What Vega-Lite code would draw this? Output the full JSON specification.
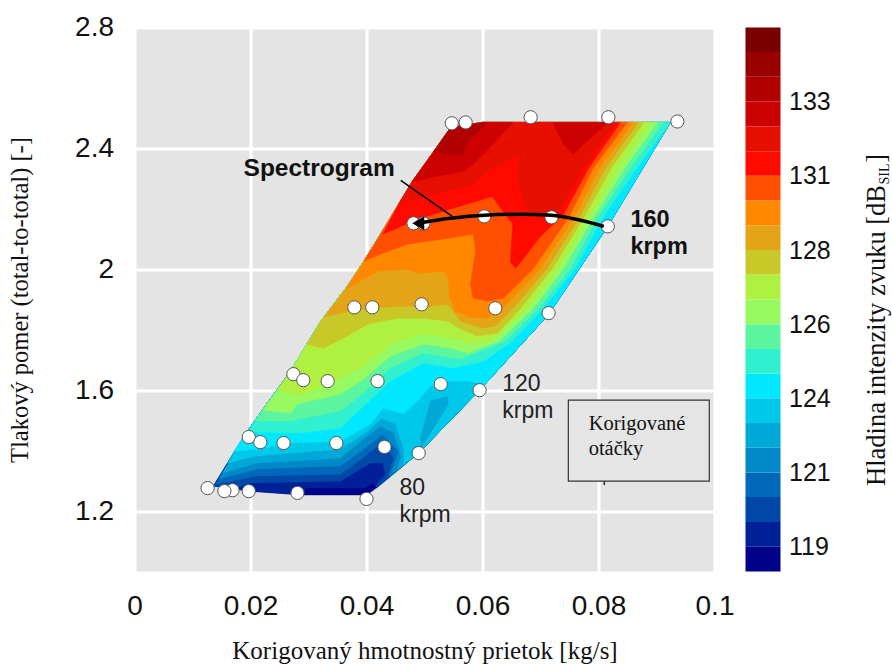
{"$schema":"https://vega.github.io/schema/vega-lite/v6.json","background":"white","padding":{"left":7.5,"top":13.5,"right":0,"bottom":0},"bounds":"flush","spacing":31,"config":{"view":{"stroke":null}},
"datasets":{"poly":[
{"b":22,"p":22,"x":0.06,"y":2.486},{"b":22,"p":22,"x":0.0545,"y":2.469},{"b":22,"p":22,"x":0.0516,"y":2.39},{"b":22,"p":22,"x":0.0479,"y":2.291},{"b":22,"p":22,"x":0.0455,"y":2.215},{"b":22,"p":22,"x":0.0424,"y":2.116},{"b":22,"p":22,"x":0.0395,"y":2.026},{"b":22,"p":22,"x":0.0367,"y":1.944},{"b":22,"p":22,"x":0.0321,"y":1.828},{"b":22,"p":22,"x":0.0269,"y":1.663},{"b":22,"p":22,"x":0.0191,"y":1.455},{"b":22,"p":22,"x":0.0136,"y":1.283},{"b":22,"p":22,"x":0.0197,"y":1.266},{"b":22,"p":22,"x":0.0291,"y":1.253},{"b":22,"p":22,"x":0.04,"y":1.253},{"b":22,"p":22,"x":0.0412,"y":1.269},{"b":22,"p":22,"x":0.049,"y":1.392},{"b":22,"p":22,"x":0.0595,"y":1.6},{"b":22,"p":22,"x":0.0714,"y":1.851},{"b":22,"p":22,"x":0.0816,"y":2.142},{"b":22,"p":22,"x":0.0924,"y":2.486},
{"b":21,"p":21,"x":0.0136,"y":1.283},{"b":21,"p":21,"x":0.0197,"y":1.266},{"b":21,"p":21,"x":0.0291,"y":1.253},{"b":21,"p":21,"x":0.0295,"y":1.276},{"b":21,"p":21,"x":0.035,"y":1.276},{"b":21,"p":21,"x":0.0395,"y":1.276},{"b":21,"p":21,"x":0.0412,"y":1.293},{"b":21,"p":21,"x":0.0417,"y":1.276},{"b":21,"p":21,"x":0.049,"y":1.392},{"b":21,"p":21,"x":0.0595,"y":1.6},{"b":21,"p":21,"x":0.0714,"y":1.851},{"b":21,"p":21,"x":0.0816,"y":2.142},{"b":21,"p":21,"x":0.0924,"y":2.486},{"b":21,"p":21,"x":0.06,"y":2.486},{"b":21,"p":21,"x":0.0545,"y":2.469},{"b":21,"p":21,"x":0.0516,"y":2.39},{"b":21,"p":21,"x":0.0479,"y":2.291},{"b":21,"p":21,"x":0.0455,"y":2.215},{"b":21,"p":21,"x":0.0424,"y":2.116},{"b":21,"p":21,"x":0.0395,"y":2.026},{"b":21,"p":21,"x":0.0367,"y":1.944},{"b":21,"p":21,"x":0.0321,"y":1.828},{"b":21,"p":21,"x":0.0269,"y":1.663},{"b":21,"p":21,"x":0.0191,"y":1.455},
{"b":20,"p":20,"x":0.0171,"y":1.273},{"b":20,"p":20,"x":0.02,"y":1.293},{"b":20,"p":20,"x":0.0355,"y":1.299},{"b":20,"p":20,"x":0.0407,"y":1.359},{"b":20,"p":20,"x":0.0428,"y":1.359},{"b":20,"p":20,"x":0.0433,"y":1.322},{"b":20,"p":20,"x":0.0416,"y":1.283},{"b":20,"p":20,"x":0.0419,"y":1.279},{"b":20,"p":20,"x":0.049,"y":1.392},{"b":20,"p":20,"x":0.0595,"y":1.6},{"b":20,"p":20,"x":0.0714,"y":1.851},{"b":20,"p":20,"x":0.0816,"y":2.142},{"b":20,"p":20,"x":0.0924,"y":2.486},{"b":20,"p":20,"x":0.06,"y":2.486},{"b":20,"p":20,"x":0.0545,"y":2.469},{"b":20,"p":20,"x":0.0516,"y":2.39},{"b":20,"p":20,"x":0.0479,"y":2.291},{"b":20,"p":20,"x":0.0455,"y":2.215},{"b":20,"p":20,"x":0.0424,"y":2.116},{"b":20,"p":20,"x":0.0395,"y":2.026},{"b":20,"p":20,"x":0.0367,"y":1.944},{"b":20,"p":20,"x":0.0321,"y":1.828},{"b":20,"p":20,"x":0.0269,"y":1.663},{"b":20,"p":20,"x":0.0191,"y":1.455},{"b":20,"p":20,"x":0.0136,"y":1.283},
{"b":19,"p":19,"x":0.014,"y":1.289},{"b":19,"p":19,"x":0.0212,"y":1.316},{"b":19,"p":19,"x":0.0355,"y":1.322},{"b":19,"p":19,"x":0.0398,"y":1.382},{"b":19,"p":19,"x":0.0429,"y":1.431},{"b":19,"p":19,"x":0.0447,"y":1.375},{"b":19,"p":19,"x":0.0436,"y":1.309},{"b":19,"p":19,"x":0.049,"y":1.392},{"b":19,"p":19,"x":0.0595,"y":1.6},{"b":19,"p":19,"x":0.0714,"y":1.851},{"b":19,"p":19,"x":0.0816,"y":2.142},{"b":19,"p":19,"x":0.0924,"y":2.486},{"b":19,"p":19,"x":0.06,"y":2.486},{"b":19,"p":19,"x":0.0545,"y":2.469},{"b":19,"p":19,"x":0.0516,"y":2.39},{"b":19,"p":19,"x":0.0479,"y":2.291},{"b":19,"p":19,"x":0.0455,"y":2.215},{"b":19,"p":19,"x":0.0424,"y":2.116},{"b":19,"p":19,"x":0.0395,"y":2.026},{"b":19,"p":19,"x":0.0367,"y":1.944},{"b":19,"p":19,"x":0.0321,"y":1.828},{"b":19,"p":19,"x":0.0269,"y":1.663},{"b":19,"p":19,"x":0.0191,"y":1.455},
{"b":18,"p":18,"x":0.0145,"y":1.306},{"b":18,"p":18,"x":0.0212,"y":1.339},{"b":18,"p":18,"x":0.0355,"y":1.349},{"b":18,"p":18,"x":0.0398,"y":1.408},{"b":18,"p":18,"x":0.0428,"y":1.455},{"b":18,"p":18,"x":0.0455,"y":1.398},{"b":18,"p":18,"x":0.0441,"y":1.316},{"b":18,"p":18,"x":0.049,"y":1.392},{"b":18,"p":18,"x":0.0595,"y":1.6},{"b":18,"p":18,"x":0.0714,"y":1.851},{"b":18,"p":18,"x":0.0816,"y":2.142},{"b":18,"p":18,"x":0.0924,"y":2.486},{"b":18,"p":18,"x":0.06,"y":2.486},{"b":18,"p":18,"x":0.0545,"y":2.469},{"b":18,"p":18,"x":0.0516,"y":2.39},{"b":18,"p":18,"x":0.0479,"y":2.291},{"b":18,"p":18,"x":0.0455,"y":2.215},{"b":18,"p":18,"x":0.0424,"y":2.116},{"b":18,"p":18,"x":0.0395,"y":2.026},{"b":18,"p":18,"x":0.0367,"y":1.944},{"b":18,"p":18,"x":0.0321,"y":1.828},{"b":18,"p":18,"x":0.0269,"y":1.663},{"b":18,"p":18,"x":0.0191,"y":1.455},
{"b":17,"p":17,"x":0.0152,"y":1.326},{"b":17,"p":17,"x":0.0212,"y":1.359},{"b":17,"p":17,"x":0.0355,"y":1.375},{"b":17,"p":17,"x":0.039,"y":1.431},{"b":17,"p":17,"x":0.0424,"y":1.481},{"b":17,"p":17,"x":0.0447,"y":1.458},{"b":17,"p":17,"x":0.046,"y":1.382},{"b":17,"p":17,"x":0.0453,"y":1.336},{"b":17,"p":17,"x":0.049,"y":1.392},{"b":17,"p":17,"x":0.0595,"y":1.6},{"b":17,"p":17,"x":0.0714,"y":1.851},{"b":17,"p":17,"x":0.0816,"y":2.142},{"b":17,"p":17,"x":0.0924,"y":2.486},{"b":17,"p":17,"x":0.06,"y":2.486},{"b":17,"p":17,"x":0.0545,"y":2.469},{"b":17,"p":17,"x":0.0516,"y":2.39},{"b":17,"p":17,"x":0.0479,"y":2.291},{"b":17,"p":17,"x":0.0455,"y":2.215},{"b":17,"p":17,"x":0.0424,"y":2.116},{"b":17,"p":17,"x":0.0395,"y":2.026},{"b":17,"p":17,"x":0.0367,"y":1.944},{"b":17,"p":17,"x":0.0321,"y":1.828},{"b":17,"p":17,"x":0.0269,"y":1.663},{"b":17,"p":17,"x":0.0191,"y":1.455},
{"b":16,"p":16,"x":0.016,"y":1.359},{"b":16,"p":16,"x":0.0212,"y":1.382},{"b":16,"p":16,"x":0.0269,"y":1.392},{"b":16,"p":16,"x":0.0355,"y":1.405},{"b":16,"p":16,"x":0.0402,"y":1.464},{"b":16,"p":16,"x":0.0426,"y":1.507},{"b":16,"p":16,"x":0.045,"y":1.488},{"b":16,"p":16,"x":0.0464,"y":1.408},{"b":16,"p":16,"x":0.0464,"y":1.352},{"b":16,"p":16,"x":0.049,"y":1.392},{"b":16,"p":16,"x":0.0595,"y":1.6},{"b":16,"p":16,"x":0.0714,"y":1.851},{"b":16,"p":16,"x":0.0816,"y":2.142},{"b":16,"p":16,"x":0.0924,"y":2.486},{"b":16,"p":16,"x":0.06,"y":2.486},{"b":16,"p":16,"x":0.0545,"y":2.469},{"b":16,"p":16,"x":0.0516,"y":2.39},{"b":16,"p":16,"x":0.0479,"y":2.291},{"b":16,"p":16,"x":0.0455,"y":2.215},{"b":16,"p":16,"x":0.0424,"y":2.116},{"b":16,"p":16,"x":0.0395,"y":2.026},{"b":16,"p":16,"x":0.0367,"y":1.944},{"b":16,"p":16,"x":0.0321,"y":1.828},{"b":16,"p":16,"x":0.0269,"y":1.663},{"b":16,"p":16,"x":0.0191,"y":1.455},
{"b":17,"p":165,"x":0.0493,"y":1.402},{"b":17,"p":165,"x":0.0493,"y":1.441},{"b":17,"p":165,"x":0.051,"y":1.564},{"b":17,"p":165,"x":0.054,"y":1.58},{"b":17,"p":165,"x":0.0541,"y":1.554},{"b":17,"p":165,"x":0.0516,"y":1.474},
{"b":15,"p":15,"x":0.0171,"y":1.398},{"b":15,"p":15,"x":0.0212,"y":1.405},{"b":15,"p":15,"x":0.0269,"y":1.425},{"b":15,"p":15,"x":0.0355,"y":1.431},{"b":15,"p":15,"x":0.0407,"y":1.488},{"b":15,"p":15,"x":0.0429,"y":1.541},{"b":15,"p":15,"x":0.0464,"y":1.521},{"b":15,"p":15,"x":0.0488,"y":1.564},{"b":15,"p":15,"x":0.051,"y":1.613},{"b":15,"p":15,"x":0.0545,"y":1.63},{"b":15,"p":15,"x":0.0579,"y":1.63},{"b":15,"p":15,"x":0.0603,"y":1.617},{"b":15,"p":15,"x":0.0714,"y":1.851},{"b":15,"p":15,"x":0.0816,"y":2.142},{"b":15,"p":15,"x":0.0924,"y":2.486},{"b":15,"p":15,"x":0.06,"y":2.486},{"b":15,"p":15,"x":0.0545,"y":2.469},{"b":15,"p":15,"x":0.0516,"y":2.39},{"b":15,"p":15,"x":0.0479,"y":2.291},{"b":15,"p":15,"x":0.0455,"y":2.215},{"b":15,"p":15,"x":0.0424,"y":2.116},{"b":15,"p":15,"x":0.0395,"y":2.026},{"b":15,"p":15,"x":0.0367,"y":1.944},{"b":15,"p":15,"x":0.0321,"y":1.828},{"b":15,"p":15,"x":0.0269,"y":1.663},{"b":15,"p":15,"x":0.0191,"y":1.455},
{"b":14,"p":14,"x":0.0195,"y":1.464},{"b":14,"p":14,"x":0.0212,"y":1.461},{"b":14,"p":14,"x":0.0286,"y":1.458},{"b":14,"p":14,"x":0.0355,"y":1.474},{"b":14,"p":14,"x":0.0395,"y":1.547},{"b":14,"p":14,"x":0.0441,"y":1.63},{"b":14,"p":14,"x":0.0498,"y":1.689},{"b":14,"p":14,"x":0.055,"y":1.673},{"b":14,"p":14,"x":0.0602,"y":1.696},{"b":14,"p":14,"x":0.0652,"y":1.762},{"b":14,"p":14,"x":0.0705,"y":1.871},{"b":14,"p":14,"x":0.076,"y":2.003},{"b":14,"p":14,"x":0.0807,"y":2.169},{"b":14,"p":14,"x":0.0866,"y":2.334},{"b":14,"p":14,"x":0.0924,"y":2.486},{"b":14,"p":14,"x":0.06,"y":2.486},{"b":14,"p":14,"x":0.0545,"y":2.469},{"b":14,"p":14,"x":0.0516,"y":2.39},{"b":14,"p":14,"x":0.0479,"y":2.291},{"b":14,"p":14,"x":0.0455,"y":2.215},{"b":14,"p":14,"x":0.0424,"y":2.116},{"b":14,"p":14,"x":0.0395,"y":2.026},{"b":14,"p":14,"x":0.0367,"y":1.944},{"b":14,"p":14,"x":0.0321,"y":1.828},{"b":14,"p":14,"x":0.0269,"y":1.663},
{"b":13,"p":13,"x":0.0207,"y":1.498},{"b":13,"p":13,"x":0.0269,"y":1.498},{"b":13,"p":13,"x":0.0355,"y":1.531},{"b":13,"p":13,"x":0.0395,"y":1.59},{"b":13,"p":13,"x":0.0441,"y":1.673},{"b":13,"p":13,"x":0.0498,"y":1.722},{"b":13,"p":13,"x":0.0562,"y":1.702},{"b":13,"p":13,"x":0.064,"y":1.762},{"b":13,"p":13,"x":0.0697,"y":1.871},{"b":13,"p":13,"x":0.0752,"y":2.003},{"b":13,"p":13,"x":0.0798,"y":2.169},{"b":13,"p":13,"x":0.0855,"y":2.334},{"b":13,"p":13,"x":0.0912,"y":2.486},{"b":13,"p":13,"x":0.06,"y":2.486},{"b":13,"p":13,"x":0.0545,"y":2.469},{"b":13,"p":13,"x":0.0516,"y":2.39},{"b":13,"p":13,"x":0.0479,"y":2.291},{"b":13,"p":13,"x":0.0455,"y":2.215},{"b":13,"p":13,"x":0.0424,"y":2.116},{"b":13,"p":13,"x":0.0395,"y":2.026},{"b":13,"p":13,"x":0.0367,"y":1.944},{"b":13,"p":13,"x":0.0321,"y":1.828},{"b":13,"p":13,"x":0.0269,"y":1.663},
{"b":12,"p":12,"x":0.0221,"y":1.534},{"b":12,"p":12,"x":0.0269,"y":1.524},{"b":12,"p":12,"x":0.0281,"y":1.554},{"b":12,"p":12,"x":0.0355,"y":1.587},{"b":12,"p":12,"x":0.0395,"y":1.636},{"b":12,"p":12,"x":0.0441,"y":1.712},{"b":12,"p":12,"x":0.0498,"y":1.752},{"b":12,"p":12,"x":0.0545,"y":1.739},{"b":12,"p":12,"x":0.0574,"y":1.722},{"b":12,"p":12,"x":0.0628,"y":1.762},{"b":12,"p":12,"x":0.0688,"y":1.871},{"b":12,"p":12,"x":0.074,"y":2.003},{"b":12,"p":12,"x":0.0791,"y":2.169},{"b":12,"p":12,"x":0.0845,"y":2.334},{"b":12,"p":12,"x":0.0902,"y":2.486},{"b":12,"p":12,"x":0.06,"y":2.486},{"b":12,"p":12,"x":0.0545,"y":2.469},{"b":12,"p":12,"x":0.0516,"y":2.39},{"b":12,"p":12,"x":0.0479,"y":2.291},{"b":12,"p":12,"x":0.0455,"y":2.215},{"b":12,"p":12,"x":0.0424,"y":2.116},{"b":12,"p":12,"x":0.0395,"y":2.026},{"b":12,"p":12,"x":0.0367,"y":1.944},{"b":12,"p":12,"x":0.0321,"y":1.828},{"b":12,"p":12,"x":0.0269,"y":1.663},
{"b":11,"p":11,"x":0.0247,"y":1.603},{"b":11,"p":11,"x":0.0286,"y":1.58},{"b":11,"p":11,"x":0.0355,"y":1.64},{"b":11,"p":11,"x":0.0395,"y":1.679},{"b":11,"p":11,"x":0.0441,"y":1.752},{"b":11,"p":11,"x":0.0498,"y":1.785},{"b":11,"p":11,"x":0.0545,"y":1.772},{"b":11,"p":11,"x":0.0584,"y":1.752},{"b":11,"p":11,"x":0.0614,"y":1.762},{"b":11,"p":11,"x":0.0678,"y":1.871},{"b":11,"p":11,"x":0.0731,"y":2.003},{"b":11,"p":11,"x":0.0783,"y":2.169},{"b":11,"p":11,"x":0.0833,"y":2.334},{"b":11,"p":11,"x":0.089,"y":2.486},{"b":11,"p":11,"x":0.06,"y":2.486},{"b":11,"p":11,"x":0.0545,"y":2.469},{"b":11,"p":11,"x":0.0516,"y":2.39},{"b":11,"p":11,"x":0.0479,"y":2.291},{"b":11,"p":11,"x":0.0455,"y":2.215},{"b":11,"p":11,"x":0.0424,"y":2.116},{"b":11,"p":11,"x":0.0395,"y":2.026},{"b":11,"p":11,"x":0.0367,"y":1.944},{"b":11,"p":11,"x":0.0321,"y":1.828},{"b":11,"p":11,"x":0.0269,"y":1.663},
{"b":10,"p":10,"x":0.0297,"y":1.752},{"b":10,"p":10,"x":0.0326,"y":1.739},{"b":10,"p":10,"x":0.0367,"y":1.779},{"b":10,"p":10,"x":0.0402,"y":1.818},{"b":10,"p":10,"x":0.0453,"y":1.838},{"b":10,"p":10,"x":0.0498,"y":1.838},{"b":10,"p":10,"x":0.054,"y":1.828},{"b":10,"p":10,"x":0.0562,"y":1.802},{"b":10,"p":10,"x":0.0591,"y":1.779},{"b":10,"p":10,"x":0.0626,"y":1.788},{"b":10,"p":10,"x":0.0666,"y":1.871},{"b":10,"p":10,"x":0.0721,"y":2.003},{"b":10,"p":10,"x":0.0774,"y":2.169},{"b":10,"p":10,"x":0.0822,"y":2.334},{"b":10,"p":10,"x":0.0878,"y":2.486},{"b":10,"p":10,"x":0.06,"y":2.486},{"b":10,"p":10,"x":0.0545,"y":2.469},{"b":10,"p":10,"x":0.0516,"y":2.39},{"b":10,"p":10,"x":0.0479,"y":2.291},{"b":10,"p":10,"x":0.0455,"y":2.215},{"b":10,"p":10,"x":0.0424,"y":2.116},{"b":10,"p":10,"x":0.0395,"y":2.026},{"b":10,"p":10,"x":0.0367,"y":1.944},{"b":10,"p":10,"x":0.0321,"y":1.828},
{"b":9,"p":9,"x":0.0326,"y":1.841},{"b":9,"p":9,"x":0.0372,"y":1.861},{"b":9,"p":9,"x":0.0424,"y":1.874},{"b":9,"p":9,"x":0.0471,"y":1.878},{"b":9,"p":9,"x":0.051,"y":1.878},{"b":9,"p":9,"x":0.054,"y":1.884},{"b":9,"p":9,"x":0.0562,"y":1.828},{"b":9,"p":9,"x":0.0602,"y":1.805},{"b":9,"p":9,"x":0.0622,"y":1.812},{"b":9,"p":9,"x":0.0653,"y":1.871},{"b":9,"p":9,"x":0.0712,"y":2.003},{"b":9,"p":9,"x":0.0766,"y":2.169},{"b":9,"p":9,"x":0.0812,"y":2.334},{"b":9,"p":9,"x":0.0869,"y":2.486},{"b":9,"p":9,"x":0.06,"y":2.486},{"b":9,"p":9,"x":0.0545,"y":2.469},{"b":9,"p":9,"x":0.0516,"y":2.39},{"b":9,"p":9,"x":0.0479,"y":2.291},{"b":9,"p":9,"x":0.0455,"y":2.215},{"b":9,"p":9,"x":0.0424,"y":2.116},{"b":9,"p":9,"x":0.0395,"y":2.026},{"b":9,"p":9,"x":0.0367,"y":1.944},
{"b":8,"p":8,"x":0.0364,"y":1.934},{"b":8,"p":8,"x":0.0419,"y":1.993},{"b":8,"p":8,"x":0.0464,"y":2.0},{"b":8,"p":8,"x":0.0493,"y":1.987},{"b":8,"p":8,"x":0.0533,"y":1.993},{"b":8,"p":8,"x":0.0541,"y":1.97},{"b":8,"p":8,"x":0.0543,"y":1.911},{"b":8,"p":8,"x":0.0553,"y":1.861},{"b":8,"p":8,"x":0.0579,"y":1.841},{"b":8,"p":8,"x":0.0609,"y":1.838},{"b":8,"p":8,"x":0.0636,"y":1.871},{"b":8,"p":8,"x":0.07,"y":2.003},{"b":8,"p":8,"x":0.0757,"y":2.169},{"b":8,"p":8,"x":0.0802,"y":2.334},{"b":8,"p":8,"x":0.086,"y":2.486},{"b":8,"p":8,"x":0.06,"y":2.486},{"b":8,"p":8,"x":0.0545,"y":2.469},{"b":8,"p":8,"x":0.0516,"y":2.39},{"b":8,"p":8,"x":0.0479,"y":2.291},{"b":8,"p":8,"x":0.0455,"y":2.215},{"b":8,"p":8,"x":0.0424,"y":2.116},{"b":8,"p":8,"x":0.0395,"y":2.026},
{"b":7,"p":7,"x":0.0395,"y":2.026},{"b":7,"p":7,"x":0.0424,"y":2.05},{"b":7,"p":7,"x":0.0471,"y":2.083},{"b":7,"p":7,"x":0.054,"y":2.102},{"b":7,"p":7,"x":0.0584,"y":2.116},{"b":7,"p":7,"x":0.0588,"y":2.06},{"b":7,"p":7,"x":0.0579,"y":1.95},{"b":7,"p":7,"x":0.0584,"y":1.904},{"b":7,"p":7,"x":0.0609,"y":1.894},{"b":7,"p":7,"x":0.0636,"y":1.904},{"b":7,"p":7,"x":0.0666,"y":1.96},{"b":7,"p":7,"x":0.0688,"y":2.003},{"b":7,"p":7,"x":0.0748,"y":2.169},{"b":7,"p":7,"x":0.0791,"y":2.334},{"b":7,"p":7,"x":0.085,"y":2.486},{"b":7,"p":7,"x":0.06,"y":2.486},{"b":7,"p":7,"x":0.0545,"y":2.469},{"b":7,"p":7,"x":0.0516,"y":2.39},{"b":7,"p":7,"x":0.0479,"y":2.291},{"b":7,"p":7,"x":0.0455,"y":2.215},{"b":7,"p":7,"x":0.0424,"y":2.116},
{"b":6,"p":6,"x":0.0428,"y":2.116},{"b":6,"p":6,"x":0.0493,"y":2.169},{"b":6,"p":6,"x":0.055,"y":2.202},{"b":6,"p":6,"x":0.0617,"y":2.241},{"b":6,"p":6,"x":0.0631,"y":2.202},{"b":6,"p":6,"x":0.0652,"y":2.149},{"b":6,"p":6,"x":0.0648,"y":2.026},{"b":6,"p":6,"x":0.0657,"y":2.003},{"b":6,"p":6,"x":0.0671,"y":2.036},{"b":6,"p":6,"x":0.0697,"y":2.102},{"b":6,"p":6,"x":0.074,"y":2.182},{"b":6,"p":6,"x":0.0783,"y":2.334},{"b":6,"p":6,"x":0.0838,"y":2.486},{"b":6,"p":6,"x":0.06,"y":2.486},{"b":6,"p":6,"x":0.0545,"y":2.469},{"b":6,"p":6,"x":0.0516,"y":2.39},{"b":6,"p":6,"x":0.0479,"y":2.291},{"b":6,"p":6,"x":0.0455,"y":2.215},
{"b":5,"p":5,"x":0.0455,"y":2.215},{"b":5,"p":5,"x":0.0498,"y":2.241},{"b":5,"p":5,"x":0.055,"y":2.264},{"b":5,"p":5,"x":0.0584,"y":2.281},{"b":5,"p":5,"x":0.0614,"y":2.334},{"b":5,"p":5,"x":0.066,"y":2.374},{"b":5,"p":5,"x":0.0662,"y":2.281},{"b":5,"p":5,"x":0.0678,"y":2.192},{"b":5,"p":5,"x":0.0726,"y":2.175},{"b":5,"p":5,"x":0.0774,"y":2.334},{"b":5,"p":5,"x":0.0829,"y":2.486},{"b":5,"p":5,"x":0.06,"y":2.486},{"b":5,"p":5,"x":0.0545,"y":2.469},{"b":5,"p":5,"x":0.0516,"y":2.39},{"b":5,"p":5,"x":0.0479,"y":2.291},
{"b":4,"p":4,"x":0.0479,"y":2.291},{"b":4,"p":4,"x":0.0567,"y":2.324},{"b":4,"p":4,"x":0.0583,"y":2.347},{"b":4,"p":4,"x":0.0614,"y":2.407},{"b":4,"p":4,"x":0.0653,"y":2.486},{"b":4,"p":4,"x":0.06,"y":2.486},{"b":4,"p":4,"x":0.0545,"y":2.469},{"b":4,"p":4,"x":0.0516,"y":2.39},
{"b":4,"p":45,"x":0.0722,"y":2.486},{"b":4,"p":45,"x":0.074,"y":2.413},{"b":4,"p":45,"x":0.0757,"y":2.38},{"b":4,"p":45,"x":0.0774,"y":2.413},{"b":4,"p":45,"x":0.0809,"y":2.473},{"b":4,"p":45,"x":0.0816,"y":2.486},
{"b":3,"p":3,"x":0.0516,"y":2.39},{"b":3,"p":3,"x":0.0541,"y":2.38},{"b":3,"p":3,"x":0.0567,"y":2.38},{"b":3,"p":3,"x":0.0574,"y":2.423},{"b":3,"p":3,"x":0.0609,"y":2.486},{"b":3,"p":3,"x":0.06,"y":2.486},{"b":3,"p":3,"x":0.0545,"y":2.469}
],
"bands":[{"b":22,"lo":118.22,"hi":119},{"b":21,"lo":119,"hi":119.78},{"b":20,"lo":119.78,"hi":120.56},{"b":19,"lo":120.56,"hi":121.33},{"b":18,"lo":121.33,"hi":122.11},{"b":17,"lo":122.11,"hi":122.89},{"b":16,"lo":122.89,"hi":123.67},{"b":15,"lo":123.67,"hi":124.44},{"b":14,"lo":124.44,"hi":125.22},{"b":13,"lo":125.22,"hi":126},{"b":12,"lo":126,"hi":126.78},{"b":11,"lo":126.78,"hi":127.56},{"b":10,"lo":127.56,"hi":128.33},{"b":9,"lo":128.33,"hi":129.11},{"b":8,"lo":129.11,"hi":129.89},{"b":7,"lo":129.89,"hi":130.67},{"b":6,"lo":130.67,"hi":131.44},{"b":5,"lo":131.44,"hi":132.22},{"b":4,"lo":132.22,"hi":133},{"b":3,"lo":133,"hi":133.78},{"b":2,"lo":133.78,"hi":134.56},{"b":1,"lo":134.56,"hi":135.33}]},
"hconcat":[{"width":580,"height":544,"view":{"fill":"#e4e4e4","stroke":null},
"layer":[
{"data":{"name":"poly"},"transform":[{"window":[{"op":"row_number","as":"s"}]}],"mark":{"type":"line","strokeWidth":0.4,"clip":false},"encoding":{"x":{"field":"x","type":"quantitative","scale":{"domain":[0,0.1],"nice":false,"zero":false},"axis":{"title":"Korigovaný hmotnostný prietok [kg/s]","values":[0,0.02,0.04,0.06,0.08,0.1],"format":"~g","domain":false,"ticks":false,"grid":true,"gridColor":"white","gridWidth":3,"gridOpacity":1,"labelFont":"Liberation Sans","labelFontSize":28,"labelColor":"#111","labelPadding":21,"labelFlush":false,"titleFont":"Liberation Serif","titleFontSize":25,"titleFontWeight":"normal","titleColor":"#111","titlePadding":18}},"y":{"field":"y","type":"quantitative","scale":{"domain":[1,2.8],"nice":false,"zero":false},"axis":{"title":"Tlakový pomer (total-to-total) [-]","values":[1.2,1.6,2,2.4,2.8],"format":"~g","domain":false,"ticks":false,"grid":true,"gridColor":"white","gridWidth":3,"gridOpacity":1,"labelFont":"Liberation Sans","labelFontSize":28,"labelColor":"#111","labelPadding":21,"titleFont":"Liberation Serif","titleFontSize":24.5,"titleFontWeight":"normal","titleColor":"#111","titlePadding":42}},"detail":{"field":"p"},"fill":{"field":"b","type":"ordinal","scale":{"domain":[1,2,3,4,5,6,7,8,9,10,11,12,13,14,15,16,17,18,19,20,21,22],"range":["#7a0000","#990000","#b00000","#cc0000","#e60f00","#ff0a00","#ff5000","#ff8800","#e5a317","#c8c828","#b0f040","#96fa60","#5cf5a0","#30f0d0","#00e8ff","#00c8e8","#00a8d8","#0088c8","#0068b8","#0048a8","#002098","#000088"]},"legend":null},"stroke":{"field":"b","type":"ordinal","scale":{"domain":[1,2,3,4,5,6,7,8,9,10,11,12,13,14,15,16,17,18,19,20,21,22],"range":["#7a0000","#990000","#b00000","#cc0000","#e60f00","#ff0a00","#ff5000","#ff8800","#e5a317","#c8c828","#b0f040","#96fa60","#5cf5a0","#30f0d0","#00e8ff","#00c8e8","#00a8d8","#0088c8","#0068b8","#0048a8","#002098","#000088"]},"legend":null},"order":{"field":"s","type":"quantitative"}}},
{"data":{"values":[{"x":0.0748,"x2":0.0991,"y":1.567,"y2":1.299}]},"mark":{"type":"rect","fill":"#e5e5e5","stroke":"#333","strokeWidth":1.2},"encoding":{"x":{"field":"x","type":"quantitative"},"x2":{"field":"x2"},"y":{"field":"y","type":"quantitative"},"y2":{"field":"y2"}}},
{"data":{"values":[{"l":"tick","x":0.081,"y":1.299},{"l":"tick","x":0.081,"y":1.286}]},"mark":{"type":"line","stroke":"#333","strokeWidth":1.5},"encoding":{"x":{"field":"x","type":"quantitative"},"y":{"field":"y","type":"quantitative"}}},
{"data":{"values":[{"x":0.0547,"y":2.483},{"x":0.0571,"y":2.486},{"x":0.0683,"y":2.503},{"x":0.0817,"y":2.503},{"x":0.0936,"y":2.489},{"x":0.0481,"y":2.152},{"x":0.0498,"y":2.152},{"x":0.0603,"y":2.175},{"x":0.0719,"y":2.172},{"x":0.0816,"y":2.142},{"x":0.0379,"y":1.874},{"x":0.041,"y":1.874},{"x":0.0495,"y":1.884},{"x":0.0622,"y":1.871},{"x":0.0714,"y":1.855},{"x":0.0274,"y":1.653},{"x":0.0291,"y":1.633},{"x":0.0333,"y":1.63},{"x":0.0419,"y":1.63},{"x":0.0528,"y":1.62},{"x":0.0595,"y":1.6},{"x":0.0197,"y":1.445},{"x":0.0217,"y":1.428},{"x":0.0257,"y":1.425},{"x":0.0348,"y":1.425},{"x":0.0431,"y":1.412},{"x":0.049,"y":1.392},{"x":0.0126,"y":1.276},{"x":0.0169,"y":1.269},{"x":0.0155,"y":1.266},{"x":0.0197,"y":1.266},{"x":0.0281,"y":1.26},{"x":0.04,"y":1.24}]},"mark":{"type":"point","filled":true,"fill":"white","stroke":"#555","strokeWidth":1,"opacity":1,"fillOpacity":1,"strokeOpacity":1,"size":175},"encoding":{"x":{"field":"x","type":"quantitative"},"y":{"field":"y","type":"quantitative"}}},
{"data":{"values":[{"x":0.0486,"y":2.152},{"x":0.0545,"y":2.169},{"x":0.0603,"y":2.179},{"x":0.0666,"y":2.182},{"x":0.0719,"y":2.179},{"x":0.0769,"y":2.162},{"x":0.0809,"y":2.142}]},"mark":{"type":"line","stroke":"black","strokeWidth":3.5,"interpolate":"monotone"},"encoding":{"x":{"field":"x","type":"quantitative"},"y":{"field":"y","type":"quantitative"}}},
{"data":{"values":[{"x":0.0459,"y":2.294},{"x":0.0548,"y":2.175}]},"mark":{"type":"line","stroke":"black","strokeWidth":1.5},"encoding":{"x":{"field":"x","type":"quantitative"},"y":{"field":"y","type":"quantitative"}}},
{"data":{"values":[{"x":0.049,"y":2.152}]},"mark":{"type":"point","shape":"triangle-left","filled":true,"fill":"black","stroke":"black","opacity":1,"size":110},"encoding":{"x":{"field":"x","type":"quantitative"},"y":{"field":"y","type":"quantitative"}}},
{"data":{"values":[{"t":"120","x":0.0634,"y":1.597},{"t":"krpm","x":0.0634,"y":1.507},{"t":"80","x":0.0457,"y":1.253},{"t":"krpm","x":0.0457,"y":1.164}]},"mark":{"type":"text","font":"Liberation Sans","fontSize":23,"align":"left","baseline":"alphabetic","fill":"#222"},"encoding":{"x":{"field":"x","type":"quantitative"},"y":{"field":"y","type":"quantitative"},"text":{"field":"t"}}},
{"data":{"values":[{"t":"Spectrogram","x":0.0188,"y":2.307}]},"mark":{"type":"text","font":"Liberation Sans","fontWeight":"bold","fontSize":24.5,"align":"left","baseline":"alphabetic","fill":"#111"},"encoding":{"x":{"field":"x","type":"quantitative"},"y":{"field":"y","type":"quantitative"},"text":{"field":"t"}}},
{"data":{"values":[{"t":"160","x":0.0855,"y":2.139},{"t":"krpm","x":0.0855,"y":2.05}]},"mark":{"type":"text","font":"Liberation Sans","fontWeight":"bold","fontSize":23.5,"align":"left","baseline":"alphabetic","fill":"#111"},"encoding":{"x":{"field":"x","type":"quantitative"},"y":{"field":"y","type":"quantitative"},"text":{"field":"t"}}},
{"data":{"values":[{"t":"Korigované","x":0.0783,"y":1.468},{"t":"otáčky","x":0.0783,"y":1.385}]},"mark":{"type":"text","font":"Liberation Serif","fontSize":20.5,"align":"left","baseline":"alphabetic","fill":"#111"},"encoding":{"x":{"field":"x","type":"quantitative"},"y":{"field":"y","type":"quantitative"},"text":{"field":"t"}}}
],"resolve":{"scale":{"fill":"independent","stroke":"independent"}}},
{"width":35,"height":544,
"layer":[
{"data":{"name":"bands"},"mark":{"type":"rect"},"encoding":{"x":{"datum":0,"type":"quantitative","scale":{"domain":[0,1],"nice":false},"axis":null},"x2":{"datum":1},"y":{"field":"lo","type":"quantitative","scale":{"domain":[118.22,135.33],"nice":false,"zero":false},"axis":{"orient":"right","title":null,"values":[119,121.33,123.67,126,128.33,130.67,133],"format":".0f","domain":false,"ticks":false,"grid":false,"labelFont":"Liberation Sans","labelFontSize":25,"labelColor":"#111","labelPadding":8}},"y2":{"field":"hi"},"fill":{"field":"b","type":"ordinal","scale":{"domain":[1,2,3,4,5,6,7,8,9,10,11,12,13,14,15,16,17,18,19,20,21,22],"range":["#7a0000","#990000","#b00000","#cc0000","#e60f00","#ff0a00","#ff5000","#ff8800","#e5a317","#c8c828","#b0f040","#96fa60","#5cf5a0","#30f0d0","#00e8ff","#00c8e8","#00a8d8","#0088c8","#0068b8","#0048a8","#002098","#000088"]},"legend":null}}},
{"data":{"values":[{"t":"Hladina intenzity zvuku [dB","x":3.99,"y":120.91},{"t":"]","x":3.99,"y":131.08}]},"mark":{"type":"text","font":"Liberation Serif","fontSize":26.5,"angle":270,"align":"left","baseline":"alphabetic","fill":"#111"},"encoding":{"x":{"field":"x","type":"quantitative"},"y":{"field":"y","type":"quantitative"},"text":{"field":"t"}}},
{"data":{"values":[{"t":"SIL","x":4.1,"y":130.39}]},"mark":{"type":"text","font":"Liberation Serif","fontSize":14,"angle":270,"align":"left","baseline":"alphabetic","fill":"#111"},"encoding":{"x":{"field":"x","type":"quantitative"},"y":{"field":"y","type":"quantitative"},"text":{"field":"t"}}}
]}],"resolve":{"scale":{"fill":"independent","stroke":"independent","x":"independent","y":"independent"}}}
